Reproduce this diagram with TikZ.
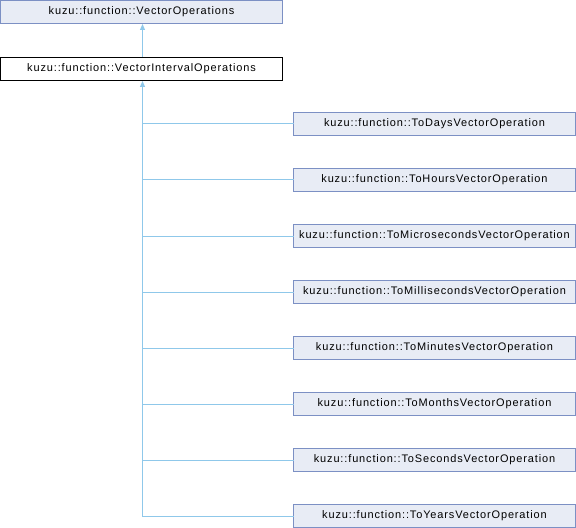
\documentclass[tikz,border=0pt]{standalone}
\usepackage{fontspec}
\setmainfont{Liberation Sans}
\usetikzlibrary{arrows.meta,calc}
\definecolor{boxfill}{HTML}{E8ECF5}
\definecolor{boxline}{HTML}{7C90C4}
\definecolor{edgeblue}{HTML}{8FC8EA}

\begin{document}
\begin{tikzpicture}[x=1bp,y=-1bp,line cap=rect,line join=miter,
    cls/.style={draw=boxline,fill=boxfill,line width=1bp,minimum width=282bp,minimum height=23bp,inner sep=0pt,font=\fontsize{11}{12}\selectfont\addfontfeature{LetterSpace=8}},
    cur/.style={cls,draw=black,fill=white},
    edge/.style={draw=edgeblue,line width=1bp},
    tip/.style={-{Triangle[length=6bp,width=5bp]}}]
    \useasboundingbox (0,0) rectangle (576,528);
    % base classes
    \node[cls] (vecops) at (141.5,12) {kuzu::function::VectorOperations};
    \node[cur] (intops) at (141.5,69) {kuzu::function::VectorIntervalOperations};
    % derived classes
    \node[cls] (days) at (434.5,124) {kuzu::function::ToDaysVectorOperation};
    \node[cls] (hours) at (434.5,180) {kuzu::function::ToHoursVectorOperation};
    \node[cls] (micro) at (434.5,236) {kuzu::function::ToMicrosecondsVectorOperation};
    \node[cls] (milli) at (434.5,292) {kuzu::function::ToMillisecondsVectorOperation};
    \node[cls] (minutes) at (434.5,348) {kuzu::function::ToMinutesVectorOperation};
    \node[cls] (months) at (434.5,404) {kuzu::function::ToMonthsVectorOperation};
    \node[cls] (seconds) at (434.5,460) {kuzu::function::ToSecondsVectorOperation};
    \node[cls] (years) at (434.5,516) {kuzu::function::ToYearsVectorOperation};
    \coordinate (trunk) at (142.5,516);
    % inheritance
    \draw[edge,tip] (intops.north -| trunk) -- (vecops.south -| trunk);
    \foreach \c in {days,hours,micro,milli,minutes,months,seconds,years}
        \draw[edge] (\c.west) -- (\c.west -| trunk);
    \draw[edge,tip] (trunk) -- (intops.south -| trunk);
\end{tikzpicture}
\end{document}
